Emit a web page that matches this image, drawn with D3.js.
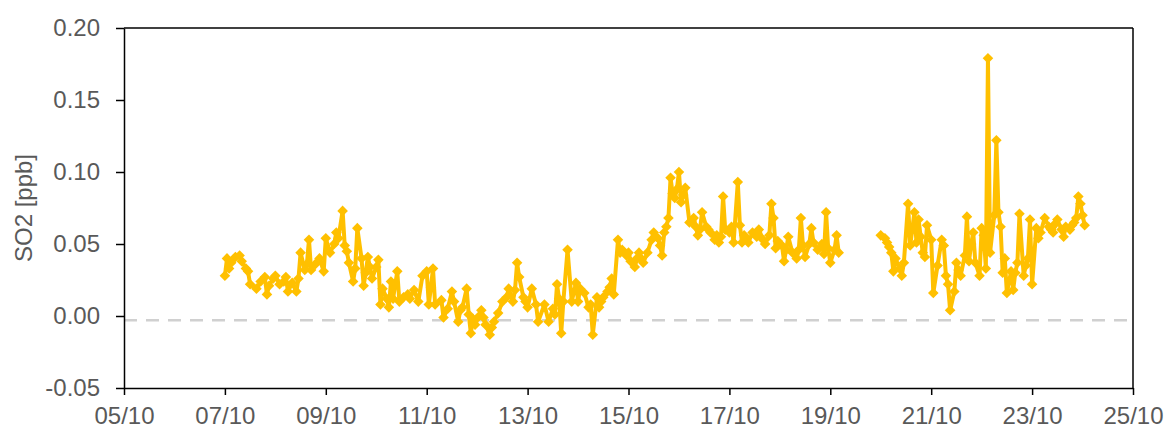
<!DOCTYPE html>
<html>
<head>
<meta charset="utf-8">
<script src="https://cdn.jsdelivr.net/npm/d3@7"></script>
<style>
  html, body { margin: 0; padding: 0; background: #fff; }
  svg { display: block; }
  text { font-family: "Liberation Sans", Arial, sans-serif; }
</style>
</head>
<body>
<svg id="chart" width="1168" height="429"></svg>
<script>
// ---- data ----
// hours since 07/10 00:00
const startDate = "2023-10-07T00:00:00";
const hours1 = [0,1,2,3,5,7,8,10,11,12,15,17,19,20,21,23,24,26,28,29,30,32,34,35,36,38,39,40,41,43,45,47,48,50,52,53,54,56,57,58,59,61,62,63,65,66,67,68,69,70,72,73,74,75,77,78,79,80,82,83,85,87,88,90,92,94,96,97,98,99,100,103,104,106,108,109,111,112,113,115,116,117,118,119,121,122,123,124,126,127,128,130,132,134,135,137,138,139,140,142,143,144,146,148,149,152,154,156,157,158,159,160,161,163,165,167,168,169,171,173,174,175,177,178,179,180,182,183,184,185,187,188,189,191,192,193,195,196,197,198,199,201,203,204,206,207,208,209,210,211,212,213,214,215,216,217,218,219,221,222,223,224,225,226,227,229,230,231,233,234,235,236,237,238,240,241,242,244,245,246,247,248,249,251,253,254,256,257,259,260,261,262,263,265,266,267,268,270,272,273,274,275,276,278,279,280,282,284,285,286,287,288,290,291,292];
const so2_1 = [0.028,0.040,0.033,0.037,0.041,0.042,0.038,0.033,0.031,0.022,0.019,0.024,0.027,0.015,0.021,0.026,0.028,0.022,0.024,0.027,0.017,0.023,0.017,0.026,0.044,0.032,0.036,0.053,0.032,0.036,0.040,0.031,0.054,0.044,0.050,0.058,0.054,0.073,0.049,0.045,0.037,0.024,0.033,0.061,0.040,0.021,0.030,0.041,0.034,0.026,0.034,0.039,0.008,0.019,0.012,0.006,0.024,0.012,0.031,0.010,0.013,0.015,0.012,0.018,0.010,0.028,0.031,0.008,0.020,0.033,0.008,0.011,-0.001,0.005,0.017,0.010,-0.004,0.004,0.006,0.019,0.001,-0.012,-0.002,-0.006,0.000,0.004,-0.001,-0.006,-0.013,-0.008,-0.004,0.002,0.010,0.013,0.019,0.010,0.018,0.037,0.027,0.013,0.010,0.006,0.019,0.008,-0.004,0.008,-0.004,0.005,0.001,0.022,0.012,-0.012,0.010,0.046,0.010,0.023,0.010,0.019,0.016,0.006,0.008,-0.013,0.013,0.006,0.010,0.013,0.017,0.020,0.026,0.015,0.053,0.044,0.046,0.042,0.044,0.038,0.034,0.040,0.044,0.040,0.037,0.044,0.053,0.058,0.054,0.049,0.042,0.058,0.062,0.068,0.096,0.085,0.082,0.088,0.100,0.079,0.084,0.089,0.065,0.066,0.068,0.062,0.056,0.060,0.072,0.062,0.060,0.058,0.053,0.056,0.051,0.055,0.083,0.060,0.058,0.062,0.051,0.093,0.063,0.051,0.056,0.054,0.051,0.058,0.055,0.060,0.053,0.050,0.056,0.078,0.068,0.047,0.052,0.049,0.038,0.046,0.055,0.044,0.040,0.046,0.068,0.049,0.041,0.050,0.061,0.051,0.046,0.050,0.043,0.072,0.047,0.037,0.046,0.056,0.044];
const hours2 = [312,314,315,316,317,318,319,321,322,323,325,326,327,328,329,330,331,332,333,334,336,337,339,341,342,343,344,345,347,348,349,350,352,353,354,355,356,357,359,360,361,362,363,364,366,367,368,369,370,371,372,374,375,376,377,378,380,381,382,383,384,386,387,388,390,392,393,394,395,396,398,399,400,402,403,404,405,406,407,408,409];
const so2_2 = [0.056,0.054,0.051,0.048,0.044,0.031,0.040,0.033,0.028,0.037,0.078,0.049,0.060,0.072,0.051,0.067,0.055,0.044,0.041,0.063,0.053,0.016,0.035,0.053,0.049,0.028,0.022,0.004,0.017,0.037,0.032,0.028,0.042,0.069,0.038,0.050,0.058,0.037,0.028,0.061,0.056,0.033,0.179,0.044,0.070,0.122,0.072,0.062,0.030,0.040,0.016,0.031,0.018,0.030,0.037,0.071,0.028,0.035,0.040,0.067,0.022,0.061,0.054,0.058,0.068,0.062,0.060,0.058,0.064,0.067,0.060,0.055,0.062,0.060,0.063,0.065,0.068,0.083,0.078,0.070,0.063];
const xDomain = ["2023-10-05T00:00:00", "2023-10-25T00:00:00"];
const yTicks = [-0.05, 0.00, 0.05, 0.10, 0.15, 0.20];
const baselineValue = -0.003;
const yLabel = "SO2 [ppb]";

// ---- layout ----
const W = 1168, H = 429;
const m = { left: 124, right: 35, top: 28, bottom: 41 };
const svg = d3.select("#chart");
const t0 = new Date(startDate).getTime();
const toPts = (hs, vs) => hs.map((h, i) => ({ t: new Date(t0 + h * 3600e3), v: vs[i] }));
const segments = [toPts(hours1, so2_1), toPts(hours2, so2_2)];

const x = d3.scaleTime()
  .domain(xDomain.map(d => new Date(d)))
  .range([m.left, W - m.right]);
const y = d3.scaleLinear()
  .domain([-0.05, 0.20])
  .range([H - m.bottom, m.top]);

const textColor = "#595959";
const gold = "#FFC000";

// baseline dashed
svg.append("line")
  .attr("x1", x.range()[0]).attr("x2", x.range()[1])
  .attr("y1", y(baselineValue)).attr("y2", y(baselineValue))
  .attr("stroke", "#D0D0D0").attr("stroke-width", 2.5)
  .attr("stroke-dasharray", "13,9");

// lines
const line = d3.line().x(d => x(d.t)).y(d => y(d.v));
segments.forEach(seg => {
  svg.append("path").datum(seg)
    .attr("d", line)
    .attr("fill", "none")
    .attr("stroke", gold)
    .attr("stroke-width", 4)
    .attr("stroke-linejoin", "round");
});
// markers
const sym = d3.symbol().type(d3.symbolSquare).size(56);
segments.forEach(seg => {
  svg.append("g").selectAll("path").data(seg).join("path")
    .attr("d", sym)
    .attr("transform", d => `translate(${x(d.t)},${y(d.v)}) rotate(45)`)
    .attr("fill", gold);
});

// frame
svg.append("line").attr("x1", x.range()[0]).attr("x2", x.range()[1])
  .attr("y1", m.top).attr("y2", m.top).attr("stroke", "#000").attr("stroke-width", 1.5);
svg.append("line").attr("x1", W - m.right).attr("x2", W - m.right)
  .attr("y1", m.top).attr("y2", H - m.bottom).attr("stroke", "#000").attr("stroke-width", 1.5);

// axes
const xTicks = d3.timeDay.every(2).range(new Date(xDomain[0]), d3.timeDay.offset(new Date(xDomain[1]), 1));
const xAxis = d3.axisBottom(x).tickValues(xTicks).tickFormat(d3.timeFormat("%d/%m"))
  .tickSize(7).tickPadding(12).tickSizeOuter(0);
const gx = svg.append("g").attr("transform", `translate(0,${H - m.bottom})`).call(xAxis);
const fmtY = d => d3.format(".2f")(d).replace("\u2212", "-");
const yAxis = d3.axisLeft(y).tickValues(yTicks).tickFormat(fmtY)
  .tickSize(8).tickPadding(16).tickSizeOuter(0);
const gy = svg.append("g").attr("transform", `translate(${m.left},0)`).call(yAxis);
[gx, gy].forEach(g => {
  g.select(".domain").attr("stroke", "#000").attr("stroke-width", 1.5);
  g.selectAll(".tick line").attr("stroke", "#000").attr("stroke-width", 1.5);
  g.selectAll(".tick text").attr("fill", textColor).attr("font-size", 24)
    .attr("font-family", "'Liberation Sans', Arial, sans-serif");
});

// y label
svg.append("text")
  .attr("transform", `translate(32,${(m.top + H - m.bottom) / 2}) rotate(-90)`)
  .attr("text-anchor", "middle")
  .attr("fill", textColor)
  .attr("font-size", 24)
  .text(yLabel);
</script>
</body>
</html>
